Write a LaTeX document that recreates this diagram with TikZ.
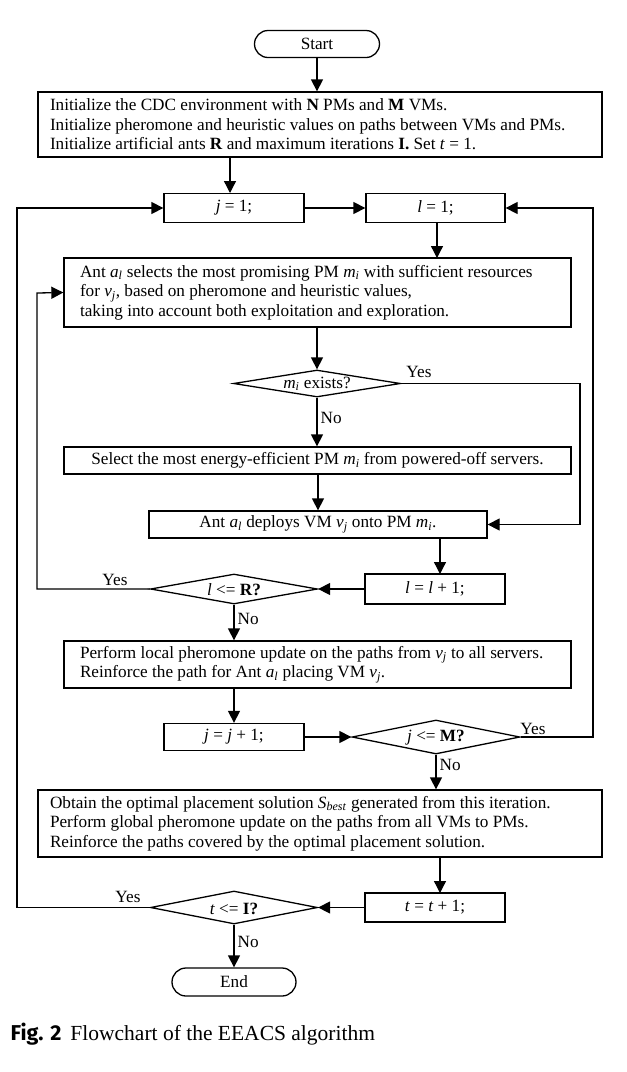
\documentclass[tikz,border=0pt]{standalone}
\usepackage{fontspec}
\setmainfont{Liberation Serif}
\newfontfamily\capsans{Fira Sans}
\usetikzlibrary{arrows.meta,shapes.geometric,shapes.misc}
\newcommand{\vv}[1]{\textit{#1}}
\newcommand{\sub}[1]{\textsubscript{\textit{#1}}}
\tikzset{
  every picture/.style={line width=1.3pt},
  base/.style={font=\fontsize{17.2}{19.6}\selectfont},
  box/.style={base, draw, rectangle, inner sep=0pt, align=center},
  frame/.style={draw, rectangle, inner sep=0pt},
  ltext/.style={base, inner sep=0pt, align=left, anchor=west},
  term/.style={base, draw, rounded rectangle, inner sep=0pt, minimum height=27pt},
  dia/.style={draw, diamond, inner sep=0pt},
  lab/.style={base, inner sep=0pt},
  arr/.style={-{Triangle[length=12pt,width=12pt]}},
}
\begin{document}
\begin{tikzpicture}[x=1pt,y=-1pt]
\useasboundingbox (0,0) rectangle (627,1072);

\node[term, minimum width=125pt] (start) at (317,44) {Start};

\node[frame, minimum width=564pt, minimum height=65pt] (init) at (320,124.5) {};
\node[ltext] (initt) at ([xshift=12pt]init.west)
 {Initialize the CDC environment with \textbf{N} PMs and \textbf{M} VMs.\\
  Initialize pheromone and heuristic values on paths between VMs and PMs.\\
  Initialize artificial ants \textbf{R} and maximum iterations \textbf{I.} Set \vv{t} = 1.};

\node[box, minimum width=140pt, minimum height=29pt] (j1) at (234,208) {\vv{j} = 1;};
\node[box, minimum width=139pt, minimum height=29pt] (l1) at (435.5,208) {\vv{l} = 1;};

\node[frame, minimum width=507pt, minimum height=69pt] (ant) at (317.5,292.5) {};
\node[ltext] (antt) at ([xshift=16pt]ant.west)
 {Ant \vv{a}\sub{l} selects the most promising PM \vv{m}\sub{i} with sufficient resources\\
  for \vv{v}\sub{j}, based on pheromone and heuristic values,\\
  taking into account both exploitation and exploration.};

\node[dia, minimum width=167pt, minimum height=27pt] (d1) at (317,383.5) {};
\node[lab] (d1t) at (317,384) {\vv{m}\sub{i} exists?};

\node[box, minimum width=507pt, minimum height=27pt] (sel) at (317.5,460.5)
 {Select the most energy-efficient PM \vv{m}\sub{i} from powered-off servers.};

\node[box, minimum width=338pt, minimum height=27pt] (dep) at (318,524.5)
 {Ant \vv{a}\sub{l} deploys VM \vv{v}\sub{j} onto PM \vv{m}\sub{i}.};

\node[box, minimum width=140pt, minimum height=30pt] (lpp) at (435,589) {\vv{l} = \vv{l} + 1;};

\node[dia, minimum width=167pt, minimum height=30pt] (d2) at (234,589) {};
\node[lab] (d2t) at (234,590) {\vv{l} <= \textbf{R?}};

\node[frame, minimum width=507pt, minimum height=47pt] (loc) at (317.5,664.5) {};
\node[ltext] (loct) at ([xshift=16pt]loc.west)
 {Perform local pheromone update on the paths from \vv{v}\sub{j} to all servers.\\
  Reinforce the path for Ant \vv{a}\sub{l} placing VM \vv{v}\sub{j}.};

\node[box, minimum width=140pt, minimum height=27pt] (jpp) at (234,737) {\vv{j} = \vv{j} + 1;};

\node[dia, minimum width=168pt, minimum height=34pt] (d3) at (436,737) {};
\node[lab] (d3t) at (436,738) {\vv{j} <= \textbf{M?}};

\node[frame, minimum width=564pt, minimum height=67pt] (glob) at (320,823.5) {};
\node[ltext] (globt) at ([xshift=12pt]glob.west)
 {Obtain the optimal placement solution \vv{S}\sub{best} generated from this iteration.\\
  Perform global pheromone update on the paths from all VMs to PMs.\\
  Reinforce the paths covered by the optimal placement solution.};

\node[box, minimum width=140pt, minimum height=29pt] (tpp) at (435,907.5) {\vv{t} = \vv{t} + 1;};

\node[dia, minimum width=167pt, minimum height=33pt] (d4) at (234,907.5) {};
\node[lab] (d4t) at (234,908.5) {\vv{t} <= \textbf{I?}};

\node[term, minimum width=124pt, minimum height=28pt] (end) at (234,982) {End};

% loop corner coordinates
\coordinate (cy) at (580,383.5);
\coordinate (cy2) at (580,524.5);
\coordinate (lx) at (37,293);
\coordinate (rx) at (593,208);
\coordinate (fx) at (17,208);

% connectors
\draw[arr] (start.south) -- (start.south |- init.north);
\draw[arr] (init.south -| 230,0) -- (230,193);
\draw[arr] (j1) -- (l1);
\draw[arr] (l1.south -| 437,0) -- (437,258);
\draw[arr] (ant.south -| d1.north) -- (d1.north);
\draw[arr] (d1.south) -- (sel.north -| d1.south)
  node[lab, pos=0.42, right=3pt] (no1) {No};
\draw[arr] (d1.east) -- (cy) -- (cy2) -- (dep.east);
\node[lab] (yes1) at (419,372) {Yes};
\draw[arr] (sel.south -| dep.north) -- (dep.north);
\draw[arr] (dep.south -| 440,0) -- (440,574);
\draw[arr] (lpp.west) -- (d2.east);
\draw[arr] (d2.west) -- (d2.west -| lx) -- (lx) -- (ant.west);
\node[lab] (yes2) at (115,580) {Yes};
\draw[arr] (d2.south) -- (d2.south |- loc.north)
  node[lab, pos=0.4, right=3pt] (no2) {No};
\draw[arr] (loc.south -| jpp.north) -- (jpp.north);
\draw[arr] (jpp.east) -- (d3.west);
\draw[arr] (d3.east) -- (d3.east -| rx) -- (rx) -- (l1.east);
\node[lab] (yes3) at (533,729) {Yes};
\draw[arr] (d3.south) -- (d3.south |- glob.north)
  node[lab, pos=0.3, right=3pt] (no3) {No};
\draw[arr] (glob.south -| 440,0) -- (440,893);
\draw[arr] (tpp.west) -- (d4.east);
\draw[arr] (d4.west) -- (d4.west -| fx) -- (fx) -- (j1.west);
\node[lab] (yes4) at (128,897) {Yes};
\draw[arr] (d4.south) -- (end.north)
  node[lab, pos=0.4, right=3pt] (no4) {No};

% caption
\node[anchor=base west, inner sep=0pt, font=\fontsize{21.5}{24}\selectfont] (cap) at (10,1040)
  {{\capsans\bfseries Fig. 2}\hspace{9pt}Flowchart of the EEACS algorithm};
\end{tikzpicture}
\end{document}
